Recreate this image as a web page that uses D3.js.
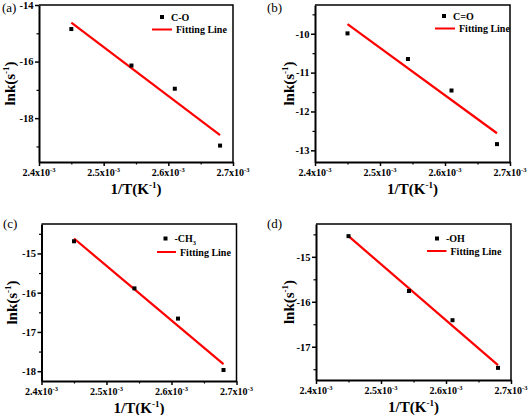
<!DOCTYPE html>
<html><head><meta charset="utf-8">
<script src="https://cdn.jsdelivr.net/npm/d3@7"></script>
<style>
html,body{margin:0;padding:0;background:#fff;}
svg{display:block;font-family:"Liberation Serif","Times New Roman",serif;}
svg text{font-family:"Liberation Serif","Times New Roman",serif;}
</style></head>
<body><svg id="c" width="529" height="415"></svg>
<script>
// ---- data ----
const invT = [2.45e-3, 2.543e-3, 2.61e-3, 2.68e-3];
const fitX = [2.45e-3, 2.68e-3];
const xTicks = [2.4e-3, 2.5e-3, 2.6e-3, 2.7e-3];
const xTickLabels = ["2.4x10", "2.5x10", "2.6x10", "2.7x10"];
const panelLabels = ["(a)", "(b)", "(c)", "(d)"];
const seriesNames = ["C-O", "C=O", "-CH3", "-OH"];
const lnkCO = [-14.85, -16.14, -16.96, -18.97];
const lnkC2O = [-9.99, -10.65, -11.46, -12.84];
const lnkCH3 = [-14.69, -15.89, -16.66, -17.97];
const lnkOH = [-14.54, -15.76, -16.41, -17.47];
const fitCO = [-14.62, -18.6];
const fitC2O = [-9.75, -12.56];
const fitCH3 = [-14.62, -17.82];
const fitOH = [-14.54, -17.41];
const yTicksA = [-18, -16, -14];
const yTicksB = [-13, -12, -11, -10];
const yTicksC = [-18, -17, -16, -15];
const yTicksD = [-17, -16, -15];
const yDomA = [-19.55, -14];
const yDomB = [-13.3, -9.26];
const yDomC = [-18.25, -14.25];
const yDomD = [-17.74, -14.27];

const panels = [
  {label: panelLabels[0], name: seriesNames[0], y: lnkCO, fit: fitCO, ticks: yTicksA, minorStep: 1, dom: yDomA,
   box: [39, 233, 5, 162], leg: [162, 17, 152, 172, 29.5], lab: [2, 12], ytx: 24},
  {label: panelLabels[1], name: seriesNames[1], y: lnkC2O, fit: fitC2O, ticks: yTicksB, minorStep: 0.5, dom: yDomB,
   box: [315, 510, 5, 162], leg: [444, 16, 435, 455, 28.5], lab: [267, 12], ytx: 21},
  {label: panelLabels[2], name: seriesNames[2], y: lnkCH3, fit: fitCH3, ticks: yTicksC, minorStep: 0.5, dom: yDomC,
   box: [41.5, 236.5, 224, 381], leg: [165.5, 238.5, 157, 176, 252], lab: [3, 228], ytx: 24.5},
  {label: panelLabels[3], name: seriesNames[3], y: lnkOH, fit: fitOH, ticks: yTicksD, minorStep: 0.5, dom: yDomD,
   box: [316, 511, 224, 380], leg: [437, 238.5, 427, 446.5, 251], lab: [267, 228], ytx: 22}
];

const svg = d3.select("#c");
svg.append("rect").attr("width", 529).attr("height", 415).attr("fill", "#fff");

panels.forEach(p => {
  const [x0, x1, y0, y1] = p.box;
  const x = d3.scaleLinear().domain([2.4e-3, 2.7e-3]).range([x0, x1]);
  const y = d3.scaleLinear().domain(p.dom).range([y1, y0]);
  const g = svg.append("g");

  // frame top/right
  g.append("path").attr("d", `M${x0},${y0}H${x1}V${y1}`).attr("fill", "none")
    .attr("stroke", "#000").attr("stroke-width", 1.5);

  // minor ticks
  const minorX = [2.45e-3, 2.55e-3, 2.65e-3];
  const xMinor = d3.axisBottom(x).tickValues(minorX).tickSize(2.5).tickFormat("");
  g.append("g").attr("transform", `translate(0,${y1})`).call(xMinor)
    .call(s => s.select(".domain").remove())
    .selectAll("line").attr("stroke-width", 1.2);
  const ymin = [];
  for (let v = Math.ceil(p.dom[0] / p.minorStep) * p.minorStep; v <= p.dom[1] + 1e-9; v += p.minorStep) {
    if (!p.ticks.some(t => Math.abs(t - v) < 1e-6)) ymin.push(v);
  }
  const yMinor = d3.axisLeft(y).tickValues(ymin).tickSize(2.5).tickFormat("");
  g.append("g").attr("transform", `translate(${x0},0)`).call(yMinor)
    .call(s => s.select(".domain").remove())
    .selectAll("line").attr("stroke-width", 1.2);

  // x axis
  const xa = d3.axisBottom(x).tickValues(xTicks).tickSize(4).tickSizeOuter(0).tickFormat("");
  const gx = g.append("g").attr("transform", `translate(0,${y1})`).call(xa);
  gx.select(".domain").attr("stroke-width", 2);
  gx.selectAll("line").attr("stroke-width", 1.5);
  xTicks.forEach((t, i) => {
    const tx = g.append("text").attr("x", x(t)).attr("y", y1 + 14)
      .attr("text-anchor", "middle").attr("font-size", 10).attr("font-weight", "bold");
    tx.append("tspan").text(xTickLabels[i]);
    tx.append("tspan").attr("dy", -4).attr("font-size", 6.5).text("-3");
  });

  // y axis
  const ya = d3.axisLeft(y).tickValues(p.ticks).tickSize(4).tickSizeOuter(0)
    .tickFormat(d => d3.format("d")(d).replace("−", "-"));
  const gy = g.append("g").attr("transform", `translate(${x0},0)`).call(ya);
  gy.attr("font-family", null);
  gy.select(".domain").attr("stroke-width", 2);
  gy.selectAll("line").attr("stroke-width", 1.5);
  gy.selectAll("text").attr("font-weight", "bold")
    .attr("font-size", 10.5).attr("fill", "#000").attr("x", -5.5);

  // axis titles
  const xt = g.append("text").attr("x", (x0 + x1) / 2).attr("y", y1 + 32)
    .attr("text-anchor", "middle").attr("font-size", 15).attr("font-weight", "bold");
  xt.append("tspan").text("1/T(K");
  xt.append("tspan").attr("dy", -6).attr("font-size", 9).text("-1");
  xt.append("tspan").attr("dy", 6).text(")");

  const cy = (y0 + y1) / 2;
  const yt = g.append("text").attr("transform", `translate(${x0 - p.ytx},${cy}) rotate(-90)`)
    .attr("text-anchor", "middle").attr("font-size", 15).attr("font-weight", "bold");
  yt.append("tspan").text("lnk(s");
  yt.append("tspan").attr("dy", -6).attr("font-size", 9).text("-1");
  yt.append("tspan").attr("dy", 6).text(")");

  // panel label
  g.append("text").attr("x", p.lab[0]).attr("y", p.lab[1]).attr("font-size", 13).text(p.label);

  // fit line
  const line = d3.line().x(d => x(d[0])).y(d => y(d[1]));
  g.append("path").datum(fitX.map((v, i) => [v, p.fit[i]])).attr("d", line)
    .attr("fill", "none").attr("stroke", "#ff0000").attr("stroke-width", 2.2);

  // points
  g.selectAll("rect.pt").data(invT.map((v, i) => [v, p.y[i]])).join("rect")
    .attr("class", "pt").attr("x", d => x(d[0]) - 2).attr("y", d => y(d[1]) - 2)
    .attr("width", 4).attr("height", 4).attr("fill", "#000");

  // legend
  const [mx, my, lx0, lx1, ly] = p.leg;
  g.append("rect").attr("x", mx - 2).attr("y", my - 2).attr("width", 4).attr("height", 4).attr("fill", "#000");
  const nt = g.append("text").attr("x", mx + 9).attr("y", my + 3.5).attr("font-size", 10).attr("font-weight", "bold");
  if (p.name === "-CH3") {
    nt.append("tspan").text("-CH");
    nt.append("tspan").attr("dy", 2.5).attr("font-size", 6.5).text("3");
  } else nt.text(p.name);
  g.append("line").attr("x1", lx0).attr("x2", lx1).attr("y1", ly).attr("y2", ly)
    .attr("stroke", "#ff0000").attr("stroke-width", 2);
  g.append("text").attr("x", lx1 + 4).attr("y", ly + 3.5).attr("font-size", 10).attr("font-weight", "bold")
    .text("Fitting Line");
});
</script></body></html>
